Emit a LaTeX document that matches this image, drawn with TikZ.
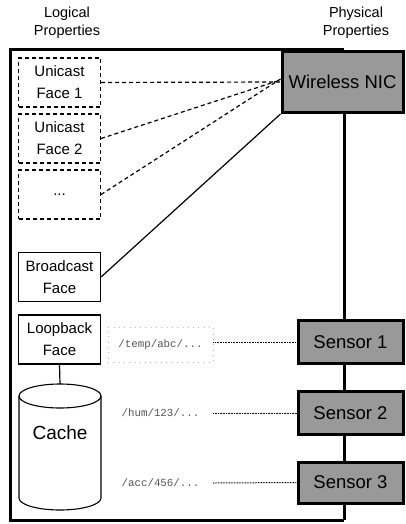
\documentclass[tikz,border=0pt]{standalone}
\usepackage{fontspec}
\setmainfont{Liberation Sans}
\setmonofont{Liberation Mono}
\definecolor{physgray}{HTML}{999999}
\definecolor{pathgray}{HTML}{555555}
\begin{document}
\begin{tikzpicture}[x=1pt,y=-1pt,
  face/.style={draw, line width=1.1pt, minimum width=82pt, minimum height=49pt, inner sep=0pt, align=center, font=\fontsize{15}{22}\selectfont},
  uface/.style={face, dash pattern=on 4pt off 3pt},
  phys/.style={draw, line width=3pt, fill=physgray, inner sep=0pt, font=\fontsize{18.5}{22}\selectfont},
  title/.style={align=center, inner sep=0pt, font=\fontsize{14.5}{18}\selectfont},
  frame/.style={line width=3pt},
  dashlink/.style={line width=1.2pt, dash pattern=on 4pt off 3pt},
  solidlink/.style={line width=1.2pt},
  dotlink/.style={line width=1pt, dash pattern=on 0.8pt off 0.8pt},
  pathlbl/.style={inner sep=0pt, minimum width=105pt, minimum height=35pt, text=pathgray, font=\ttfamily\fontsize{10.8}{12}\selectfont},
  pathbox/.style={pathlbl, draw=gray!55, line width=0.9pt, dash pattern=on 0.9pt off 4.4pt}
]
\useasboundingbox (0,0) rectangle (406,524);

% titles
\node[title] (logt) at (67,23) {Logical\\Properties};
\node[title] (phyt) at (356,23) {Physical\\Properties};

% frame
\coordinate (tr) at (344,50);
\coordinate (br) at (344,520);
\draw[frame] (tr) -- (10,50) -- (10,520) -- (br);

% physical nodes
\node[phys, minimum width=121pt, minimum height=61pt] (nic) at (342.5,82) {Wireless NIC};
\node[phys, minimum width=105pt, minimum height=43pt] (s1) at (350.5,342) {Sensor 1};
\node[phys, minimum width=105pt, minimum height=43pt] (s2) at (350.5,413) {Sensor 2};
\node[phys, minimum width=105pt, minimum height=41pt] (s3) at (350.5,482.5) {Sensor 3};

% right-side bus
\draw[frame] (nic.south -| br) -- (s1.north -| br);
\draw[frame] (s1.south -| br) -- (s2.north -| br);
\draw[frame] (s2.south -| br) -- (s3.north -| br);
\draw[frame] (s3.south -| br) -- (br);

% faces
\node[uface] (u1) at (59.5,82.5) {Unicast\\Face 1};
\node[uface] (u2) at (59.5,138.5) {Unicast\\Face 2};
\node[uface] (ud) at (59.5,194.5) {...};
\node[face] (bc) at (59.5,277) {Broadcast\\Face};
\node[face] (lb) at (59.5,339.5) {Loopback\\Face};

% links to NIC
\draw[dashlink] (u1.east) -- (nic.west);
\draw[dashlink] (u2.east) -- ([yshift=2pt]nic.west);
\draw[dashlink] (ud.east) -- ([yshift=3pt]nic.west);
\draw[solidlink] (bc.east) -- (nic.south west);

% cache cylinder
\coordinate (ctop) at (60,384);
\draw[line width=1.1pt, fill=white]
  (19,396) arc[start angle=180, end angle=0, x radius=41, y radius=-12]
  -- (101,498) arc[start angle=0, end angle=-180, x radius=41, y radius=-12] -- cycle;
\draw[line width=1.1pt] (19,396) arc[start angle=180, end angle=360, x radius=41, y radius=-12];
\node[inner sep=0pt, font=\fontsize{19}{22}\selectfont] (cache) at (60,433) {Cache};
\draw[solidlink] (lb.south) -- (ctop);

% names
\node[pathbox] (p1) at (160.5,344.5) {/temp/abc/...};
\node[pathlbl] (p2) at (160.5,413) {/hum/123/...};
\node[pathlbl] (p3) at (160.5,483) {/acc/456/...};
\draw[dotlink] (p1.east |- s1.west) -- (s1.west);
\draw[dotlink] (p2.east) -- (s2.west);
\draw[dotlink] (p3.east) -- (s3.west);
\end{tikzpicture}
\end{document}
